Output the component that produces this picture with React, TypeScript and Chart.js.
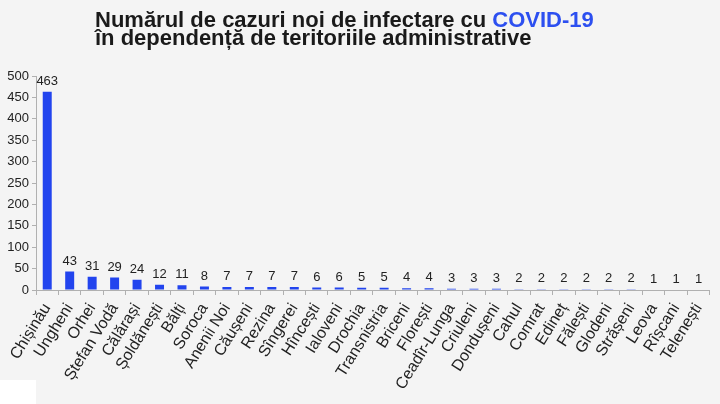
import React, { useEffect, useRef } from "react";
import { Chart, registerables } from "chart.js";

Chart.register(...registerables);

const categories = [
  "Chișinău", "Ungheni", "Orhei", "Ștefan Vodă", "Călărași", "Șoldănești", "Bălți",
  "Soroca", "Anenii Noi", "Căușeni", "Rezina", "Sîngerei", "Hîncești", "Ialoveni",
  "Drochia", "Transnistria", "Briceni", "Florești", "Ceadîr-Lunga", "Criuleni",
  "Dondușeni", "Cahul", "Comrat", "Edineț", "Fălești", "Glodeni", "Strășeni",
  "Leova", "Rîșcani", "Telenești",
];
const cases = [463, 43, 31, 29, 24, 12, 11, 8, 7, 7, 7, 7, 6, 6, 5, 5, 4, 4, 3, 3, 3, 2, 2, 2, 2, 2, 2, 1, 1, 1];
const titleLine1 = "Numărul de cazuri noi de infectare cu ";
const titleHighlight = "COVID-19";
const titleLine2 = "în dependență de teritoriile administrative";
const yMax = 500;
const yStep = 50;

const FONT = '"Liberation Sans", Arial, sans-serif';

const titlePlugin = {
  id: "customTitle",
  afterDraw(chart: any) {
    const ctx = chart.ctx;
    ctx.save();
    ctx.font = `bold 22px ${FONT}`;
    ctx.textBaseline = "alphabetic";
    ctx.textAlign = "left";
    ctx.fillStyle = "#1a1a1a";
    const x = 95;
    ctx.fillText(titleLine1, x, 27);
    const w = ctx.measureText(titleLine1).width;
    ctx.fillStyle = "#2c4ff0";
    ctx.fillText(titleHighlight, x + w, 27);
    ctx.fillStyle = "#1a1a1a";
    ctx.fillText(titleLine2, x, 45);
    ctx.restore();
  },
};

const valueLabelPlugin = {
  id: "valueLabels",
  afterDatasetsDraw(chart: any) {
    const ctx = chart.ctx;
    const meta = chart.getDatasetMeta(0);
    ctx.save();
    ctx.font = `13px ${FONT}`;
    ctx.fillStyle = "#222";
    ctx.textAlign = "center";
    ctx.textBaseline = "bottom";
    meta.data.forEach((bar: any, i: number) => {
      const v = chart.data.datasets[0].data[i];
      ctx.fillText(String(v), bar.x, bar.y - 4);
    });
    ctx.restore();
  },
};

export default function App() {
  const ref = useRef<HTMLCanvasElement | null>(null);
  useEffect(() => {
    if (!ref.current) return;
    const chart = new Chart(ref.current, {
      type: "bar",
      data: {
        labels: categories,
        datasets: [
          {
            data: cases,
            backgroundColor: "#2244ee",
            categoryPercentage: 1,
            barPercentage: 0.4,
          },
        ],
      },
      options: {
        responsive: false,
        animation: false,
        layout: { padding: { top: 76, right: 9, left: 0, bottom: 0 } },
        plugins: { legend: { display: false }, tooltip: { enabled: false }, title: { display: false } },
        scales: {
          x: {
            offset: true,
            grid: { display: true, drawOnChartArea: false, tickLength: 5, color: "#b0b0b0", offset: true },
            border: { color: "#b0b0b0" },
            ticks: {
              minRotation: 58,
              maxRotation: 58,
              autoSkip: false,
              font: { family: FONT, size: 16 },
              color: "#222",
              padding: 5,
            },
            afterFit(scale: any) {
              scale.height = 114;
            },
          },
          y: {
            min: 0,
            max: yMax,
            ticks: { stepSize: yStep, font: { family: FONT, size: 13 }, color: "#222", padding: 3 },
            grid: { display: true, drawOnChartArea: false, tickLength: 4, color: "#b0b0b0" },
            border: { color: "#b0b0b0" },
            afterFit(scale: any) {
              scale.width = 36;
            },
          },
        },
      },
      plugins: [titlePlugin, valueLabelPlugin],
    });
    return () => chart.destroy();
  }, []);
  return (
    <div style={{ position: "fixed", left: 0, top: 0, width: 720, height: 404, background: "#f4f4f4" }}>
      <div style={{ position: "absolute", left: 0, top: 380, width: 36, height: 24, background: "#ffffff" }} />
      <canvas ref={ref} width={720} height={404} style={{ position: "absolute", left: 0, top: 0, width: 720, height: 404 }} />
    </div>
  );
}
